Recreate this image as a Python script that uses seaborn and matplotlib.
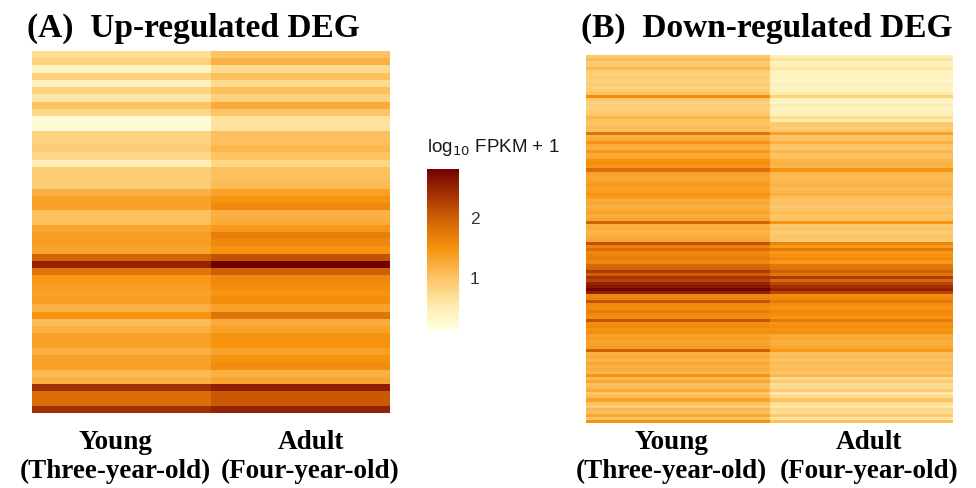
import numpy as np
import pandas as pd
import matplotlib
matplotlib.use("Agg")
import matplotlib.pyplot as plt
import matplotlib.transforms as mtransforms
import seaborn as sns
from matplotlib.colors import LinearSegmentedColormap, Normalize
from matplotlib.cm import ScalarMappable

# ---------------- data ----------------
conditions = ["Young\n(Three-year-old)", "Adult\n(Four-year-old)"]

young_A = [0.7, 0.85, 0.4, 0.85, 0.45, 0.85, 0.6, 1.0, 0.8, 0.25,
           0.25, 0.85, 0.85, 0.9, 0.78, 0.5, 0.9, 0.9, 0.9, 1.2,
           1.35, 1.35, 1.05, 1.05, 1.3, 1.4, 1.4, 1.35, 1.95, 2.5,
           1.8, 1.45, 1.4, 1.35, 1.4, 1.2, 1.5, 1.1, 1.2, 1.35,
           1.35, 1.2, 1.35, 1.35, 1.1, 1.2, 2.4, 1.85, 1.85, 2.4]
adult_A = [1.0, 1.2, 0.75, 1.05, 0.75, 1.05, 0.85, 1.25, 1.0, 0.65,
           0.65, 1.05, 1.05, 1.15, 1.0, 0.8, 1.05, 1.05, 1.1, 1.35,
           1.5, 1.6, 1.2, 1.25, 1.45, 1.7, 1.6, 1.5, 2.1, 2.8,
           2.0, 1.6, 1.55, 1.5, 1.55, 1.35, 1.8, 1.25, 1.35, 1.5,
           1.5, 1.35, 1.5, 1.55, 1.2, 1.3, 2.55, 2.05, 2.05, 2.5]

young_B = [0.95, 1.1, 0.9, 0.95, 1.15, 0.9, 0.85, 0.9, 0.85, 0.95, 0.85, 0.9, 1.0,
           1.55,
           0.95, 0.85, 0.9, 0.85, 0.9, 0.95,
           1.15,
           1.05, 1.0, 1.1, 1.05,
           1.8,
           1.2, 1.25, 1.5, 1.25, 1.2, 1.45, 1.25, 1.3,
           1.5, 1.55, 1.45, 1.85, 1.35, 1.3, 1.3,
           1.4, 1.45, 1.35, 1.4, 1.5, 1.4,
           1.25, 1.3, 1.2, 1.25, 1.35, 1.25, 1.3,
           1.95,
           1.2, 1.25, 1.15, 1.2, 1.25, 1.3,
           2.1,
           1.65, 1.85, 1.6, 1.65, 1.7, 1.6,
           1.9, 1.95, 2.3, 2.0, 2.35, 2.2, 2.5, 2.6, 2.8, 2.55,
           1.6, 1.65, 2.1, 1.6, 1.55, 1.7, 1.6, 1.55, 2.1,
           1.55, 1.6, 1.5, 1.55,
           1.35, 1.4, 1.3, 1.35, 1.4,
           2.0,
           1.2, 1.25, 1.15, 1.3, 1.2, 1.25, 1.15,
           1.5,
           1.1, 1.3, 1.05, 1.1, 1.25, 0.95, 1.1, 1.35, 1.05, 0.9,
           1.15, 1.05, 1.3, 1.0, 1.5]
adult_B = [0.5, 0.65, 0.45, 0.5, 0.6, 0.4, 0.45, 0.4, 0.35, 0.5, 0.4, 0.45, 0.55,
           0.85,
           0.45, 0.4, 0.5, 0.4, 0.45, 0.5,
           0.7,
           0.55, 0.95, 0.9, 0.95,
           1.35,
           1.0, 1.05, 1.2, 1.0, 0.95, 1.15, 1.0, 1.05,
           1.15, 1.2, 1.15, 1.5, 1.15, 1.1, 1.15,
           1.15, 1.2, 1.1, 1.15, 1.2, 1.1,
           1.0, 1.05, 0.95, 1.0, 1.1, 1.0, 1.05,
           1.5,
           0.95, 1.0, 0.9, 0.95, 1.0, 0.95,
           1.65,
           1.45, 1.75, 1.45, 1.5, 1.6, 1.45,
           1.75, 1.8, 2.0, 1.8, 2.3, 1.9, 2.2, 2.4, 2.5, 2.2,
           1.55, 1.6, 1.75, 1.55, 1.5, 1.6, 1.55, 1.5, 1.75,
           1.5, 1.55, 1.5, 1.55,
           1.25, 1.3, 1.2, 1.25, 1.3,
           1.45,
           1.05, 1.1, 1.0, 1.1, 1.05, 1.1, 1.0,
           1.15,
           0.75, 0.95, 0.7, 0.75, 0.9, 0.6, 0.75, 1.0, 0.7, 0.6,
           0.8, 0.7, 0.95, 0.65, 1.05]

cbar_ticks = [1, 2]

# ---------------- style ----------------
VMIN, VMAX = 0.15, 2.8
anchor_vals = [0.15, 0.5, 1.0, 1.5, 2.0, 2.8]
anchor_cols = ["#FFFFE0", "#FEEFB5", "#FDC466", "#F7930F", "#CF5F05", "#730000"]
cmap = LinearSegmentedColormap.from_list(
    "fpkm", [((v - VMIN) / (VMAX - VMIN), c) for v, c in zip(anchor_vals, anchor_cols)])

sns.set_theme(style="white")
plt.rcParams["font.family"] = ["Liberation Serif", "DejaVu Serif"]

fig = plt.figure(figsize=(9.76, 4.88), dpi=100)
W, H = 976, 488

def px_axes(x0, y0, x1, y1):
    return fig.add_axes([x0 / W, 1 - y1 / H, (x1 - x0) / W, (y1 - y0) / H])

axA = px_axes(32, 51, 390, 413)
axB = px_axes(586, 55, 953, 423)
cax = px_axes(427, 169, 459, 330)

dfA = pd.DataFrame({conditions[0]: young_A, conditions[1]: adult_A})
dfB = pd.DataFrame({conditions[0]: young_B, conditions[1]: adult_B})

for ax, df, pad, shifts in [(axA, dfA, 12, (-6, 10)), (axB, dfB, 5, (-6, 8))]:
    sns.heatmap(df, ax=ax, cmap=cmap, vmin=VMIN, vmax=VMAX, cbar=False,
                yticklabels=False, xticklabels=True)
    ax.tick_params(axis="x", length=0, pad=pad)
    for lbl, dx in zip(ax.get_xticklabels(), shifts):
        lbl.set_rotation(0)
        lbl.set_fontweight("bold")
        lbl.set_fontsize(19.5)
        lbl.set_linespacing(1.22)
        lbl.set_color("black")
        lbl.set_transform(lbl.get_transform() +
                          mtransforms.ScaledTranslation(dx / 100, 0, fig.dpi_scale_trans))
    ax.set_xlabel("")
    ax.set_ylabel("")

sm = ScalarMappable(norm=Normalize(VMIN, VMAX), cmap=cmap)
cb = fig.colorbar(sm, cax=cax, ticks=cbar_ticks)
cb.outline.set_visible(False)
cax.tick_params(axis="y", direction="in", color="white", length=5, width=1,
                left=True, right=True, labelcolor="#333333", labelsize=12.5, pad=8)
for t in cax.get_yticklabels():
    t.set_family(["Liberation Sans", "DejaVu Sans"])
fig.text(427 / W, 1 - 148 / H, r"log$_{10}$ FPKM + 1", ha="left", va="center",
         fontsize=13.5, color="#1a1a1a", family=["Liberation Sans", "DejaVu Sans"])

fig.text(27 / W, 1 - 28 / H, "(A)  Up-regulated DEG", ha="left", va="center",
         fontsize=24, fontweight="bold", color="black")
fig.text(581 / W, 1 - 28 / H, "(B)  Down-regulated DEG", ha="left", va="center",
         fontsize=24, fontweight="bold", color="black")

fig.savefig("out.png", dpi=100, facecolor="white")
